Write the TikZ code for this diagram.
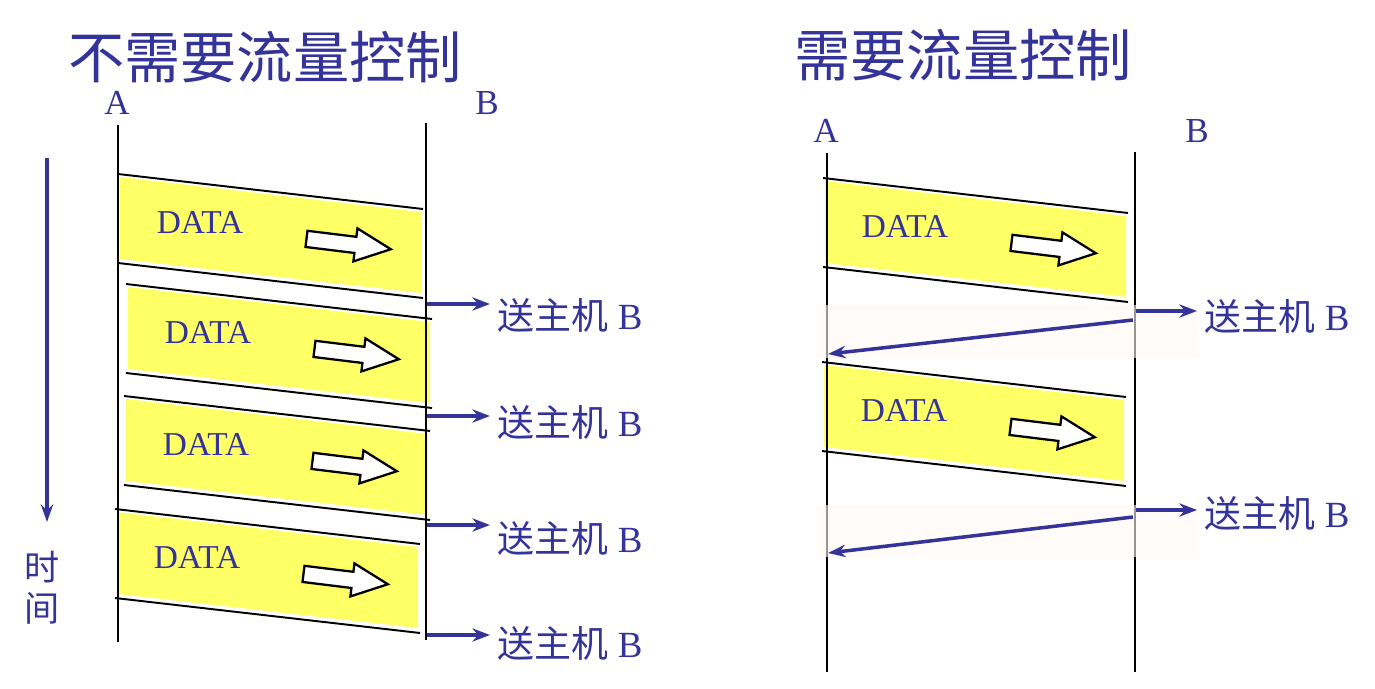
\documentclass[tikz,border=0pt]{standalone}
\usepackage{fontspec}
\setmainfont{Liberation Serif}
\newfontfamily\cjk{Noto Sans CJK SC}
\usepackage{tikz}
\usetikzlibrary{shapes,shapes.arrows,arrows.meta,positioning,calc}
\usepackage{xcolor}
\definecolor{flowBlue}{HTML}{333399}
\definecolor{dataYellow}{HTML}{FFFF66}
\definecolor{stripTint}{HTML}{FDF8F4}
\tikzset{
title/.style={text=flowBlue, font=\cjk\fontsize{32}{36}\selectfont, inner sep=0pt},
host/.style={text=flowBlue, font=\fontsize{20}{24}\selectfont, inner sep=0pt},
datalbl/.style={text=flowBlue, font=\fontsize{19}{22}\selectfont, inner sep=0pt},
sendlbl/.style={text=flowBlue, font=\fontsize{21}{24}\selectfont, inner sep=2pt, anchor=west},
timelbl/.style={text=flowBlue, font=\cjk\fontsize{20}{23.5}\selectfont, align=center, inner sep=0pt},
lifeline/.style={line width=1.5pt, black},
slant/.style={line width=1.1pt, black},
dblock/.style={fill=dataYellow, draw=none},
flowarrow/.style={single arrow, draw=black, fill=white, line width=1.3pt, inner sep=0.14cm, minimum height=1.7cm, single arrow head extend=0.17cm, single arrow tip angle=50},
sendarrow/.style={-{Stealth[length=10pt,width=7.5pt]}, flowBlue, line width=2.2pt},
backarrow/.style={-{Stealth[length=10pt,width=7pt]}, flowBlue, line width=2pt},
strip/.style={fill=stripTint, fill opacity=0.6, draw=none}
}
\begin{document}
\begin{tikzpicture}[x=0.02cm, y=-0.02cm]
\useasboundingbox (0,0) rectangle (1375,689);
% titles and host labels
\node[title] (ttl1) at (265,57) {不需要流量控制};
\node[title] (ttl2) at (963,55) {需要流量控制};
\node[host] (lA) at (117,103) {A};
\node[host] (lB) at (487,103) {B};
\node[host] (rA) at (826,131) {A};
\node[host] (rB) at (1197,131) {B};
% time axis
\coordinate (t0) at (47,158);
\coordinate (t1) at (47,522);
\draw[-{Stealth[length=10pt,width=7pt]}, flowBlue, line width=2.2pt] (t0) -- (t1);
\node[timelbl] (time) at (42,588) {时\\间};
% data blocks
\foreach \xl/\xr/\yt/\n in {118/423/174/1, 126/432/284/2, 124/430/396/3, 115/420/509/4, 823/1128/178/5, 822/1126/362/6}{
\fill[dblock] (\xl+2,\yt+3) -- (\xr-2,\yt+38) -- (\xr-2,\yt+119) -- (\xl+2,\yt+85) -- cycle;
\draw[slant] (\xl,\yt) -- (\xr,\yt+35);
\draw[slant] (\xl,\yt+89) -- (\xr,\yt+124);
\node[datalbl] (data\n) at (\xl+82,\yt+49) {DATA};
\node[flowarrow, rotate=-7] (fa\n) at (\xl+222,\yt+69) {};
}
% life lines
\coordinate (lAt) at (118,125);
\coordinate (lAb) at (118,642);
\coordinate (lBt) at (426,123);
\coordinate (lBb) at (426,640);
\coordinate (rAt) at (827,153);
\coordinate (rAb) at (827,672);
\coordinate (rBt) at (1135,152);
\coordinate (rBb) at (1135,672);
\draw[lifeline] (lAt) -- (lAb);
\draw[lifeline] (lBt) -- (lBb);
\draw[lifeline] (rAt) -- (rAb);
\draw[lifeline] (rBt) -- (rBb);
% delivery to host B, left
\foreach \ya/\yl/\n in {304/315/1, 416/422/2, 525/538/3, 635/643/4}{
\coordinate (s\n) at (427,\ya);
\node[sendlbl] (h\n) at (494,\yl) {{\cjk 送主机} B};
\draw[sendarrow] (s\n) -- ($(s\n -| h\n.west)+(-4,0)$);
}
% acknowledgements, right
\fill[strip] (818,305) rectangle (1198,358);
\fill[strip] (818,505) rectangle (1198,557);
\foreach \ya/\yl/\yb/\ye/\n in {311/316/320/354/5, 510/513/517/553/6}{
\coordinate (s\n) at (1136,\ya);
\node[sendlbl] (h\n) at (1201,\yl) {{\cjk 送主机} B};
\draw[sendarrow] (s\n) -- ($(s\n -| h\n.west)+(-4,0)$);
\coordinate (ack\n) at (1133,\yb);
\coordinate (got\n) at (828,\ye);
\draw[backarrow] (ack\n) -- (got\n);
}
\end{tikzpicture}
\end{document}
